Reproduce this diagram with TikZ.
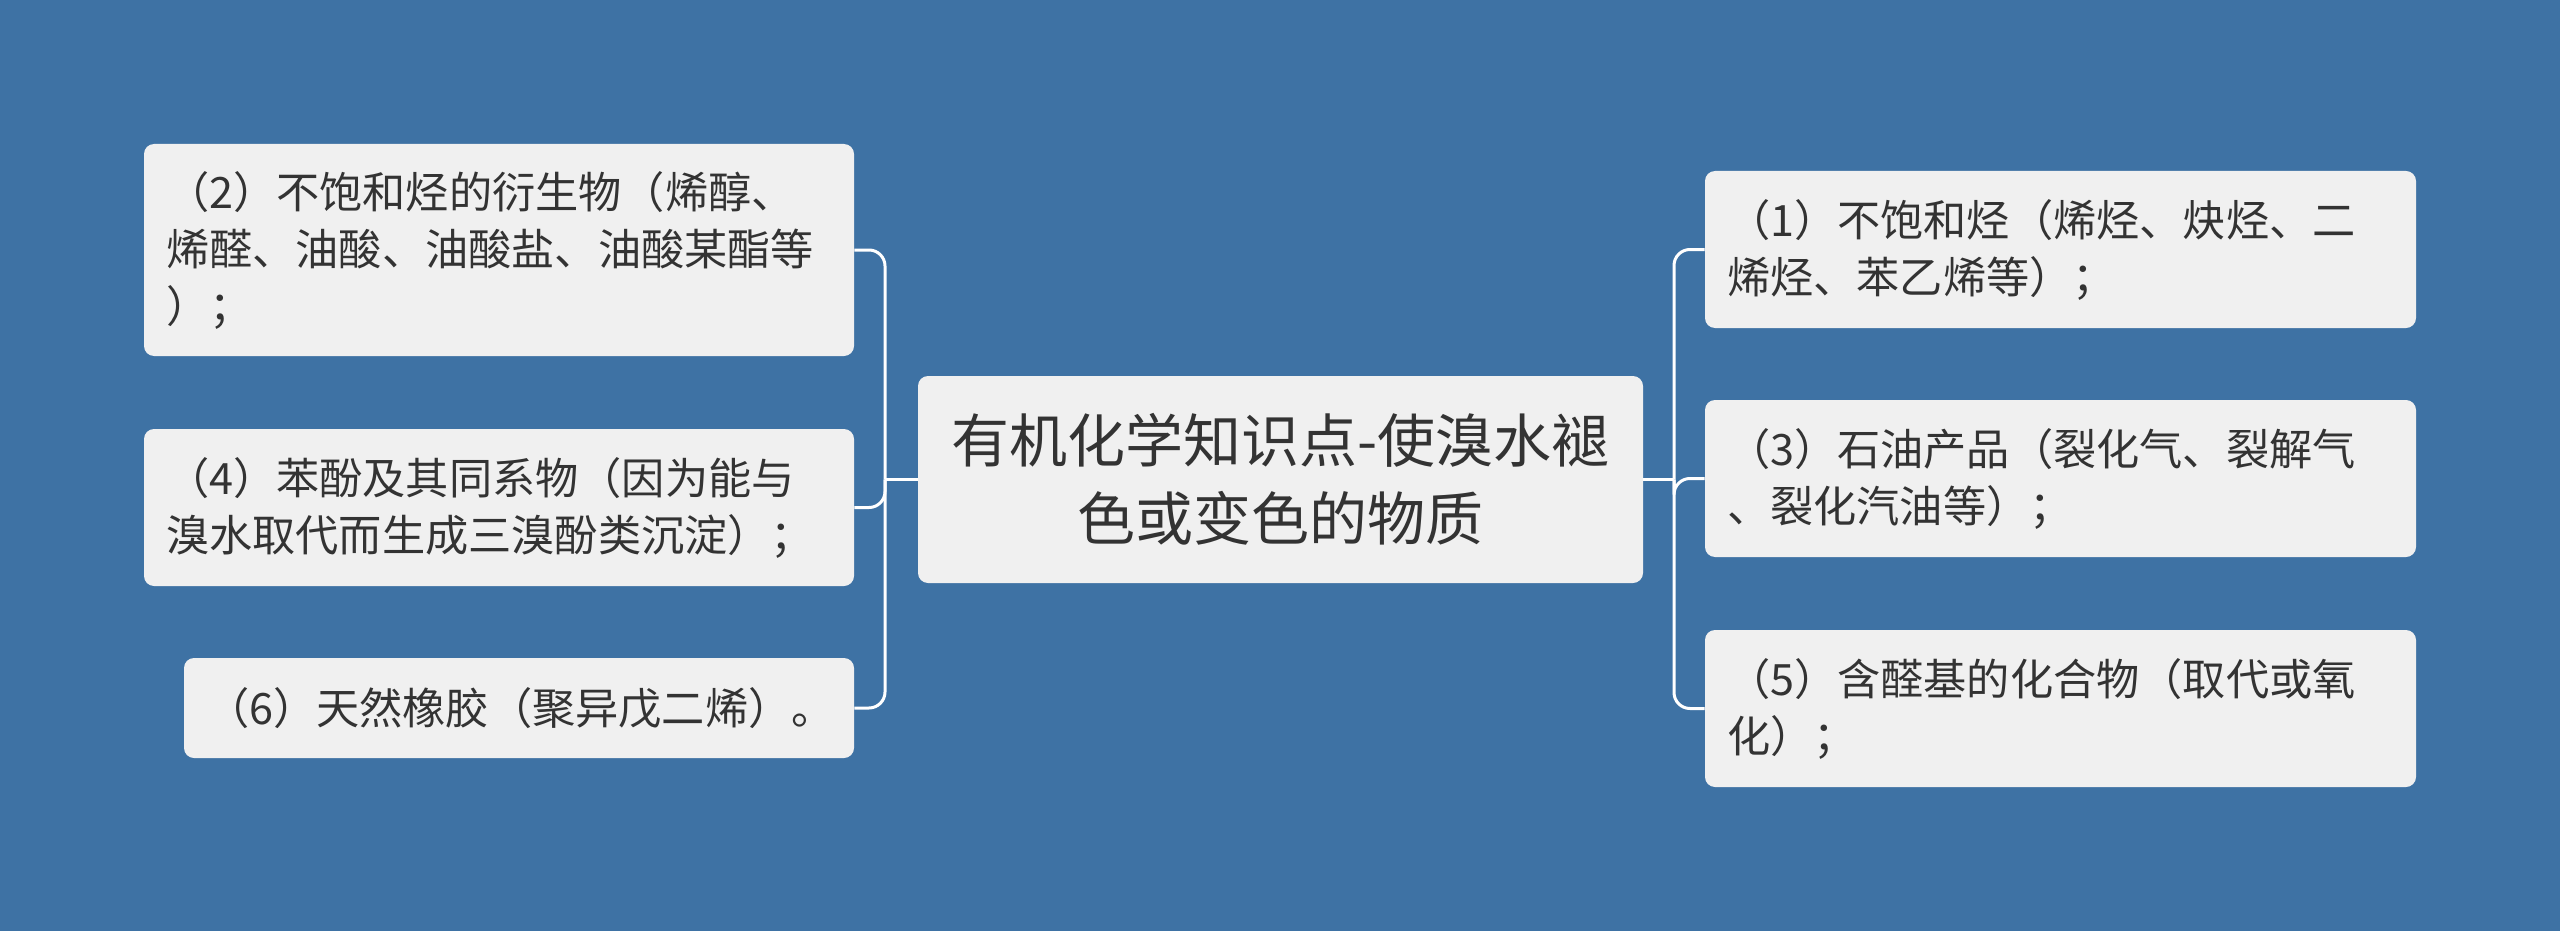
\documentclass[tikz,border=0pt]{standalone}
\usepackage{fontspec}
\newfontfamily\cjk{Noto Sans CJK SC}
\definecolor{bgblue}{RGB}{62,114,164}
\definecolor{boxfill}{RGB}{240,240,240}
\definecolor{txt}{RGB}{51,51,51}
\begin{document}
\begin{tikzpicture}[x=0.5pt,y=-0.5pt,
  leaf/.style={fill=boxfill, rounded corners=5pt, inner xsep=11pt, inner ysep=0pt,
    text=txt, align=left, font=\cjk\fontsize{21.6}{28.5}\selectfont},
  root/.style={fill=boxfill, rounded corners=5pt, inner xsep=11pt, inner ysep=0pt,
    text=txt, align=center, font=\cjk\fontsize{29}{39}\selectfont},
  conn/.style={draw=white, line width=1.5pt, rounded corners=8pt}]
\fill[bgblue] (0,0) rectangle (2560,931);
\useasboundingbox (0,0) rectangle (2560,931);

\node[root, minimum width=362.5pt, minimum height=103.5pt, text width=340.5pt] (c) at (1280.5,479.5)
  {有机化学知识点-使溴水褪\\色或变色的物质};

\node[leaf, minimum width=355pt, minimum height=106pt, text width=333pt] (n2) at (499,250)
  {（2）不饱和烃的衍生物（烯醇、\\烯醛、油酸、油酸盐、油酸某酯等\\）；};
\node[leaf, minimum width=355pt, minimum height=78.5pt, text width=333pt] (n4) at (499,507.5)
  {（4）苯酚及其同系物（因为能与\\溴水取代而生成三溴酚类沉淀）；};
\node[leaf, minimum width=335pt, minimum height=50pt, text width=313pt] (n6) at (519,708)
  {（6）天然橡胶（聚异戊二烯）。};

\node[leaf, minimum width=355.5pt, minimum height=78.5pt, text width=333.5pt] (n1) at (2060.5,249.5)
  {（1）不饱和烃（烯烃、炔烃、二\\烯烃、苯乙烯等）；};
\node[leaf, minimum width=355.5pt, minimum height=78.5pt, text width=333.5pt] (n3) at (2060.5,478.5)
  {（3）石油产品（裂化气、裂解气\\、裂化汽油等）；};
\node[leaf, minimum width=355.5pt, minimum height=78.5pt, text width=333.5pt] (n5) at (2060.5,708.5)
  {（5）含醛基的化合物（取代或氧\\化）；};

\coordinate (lj) at (885,479.5);
\coordinate (rj) at (1674,479.5);

\draw[conn] (c.west) -- (lj);
\draw[conn] (lj) |- (n2.east);
\draw[conn] (lj) |- (n4.east);
\draw[conn] (lj) |- (n6.east);

\draw[conn] (c.east) -- (rj);
\draw[conn] (rj) |- (n1.west);
\draw[conn] (rj) |- (n3.west);
\draw[conn] (rj) |- (n5.west);
\end{tikzpicture}
\end{document}
